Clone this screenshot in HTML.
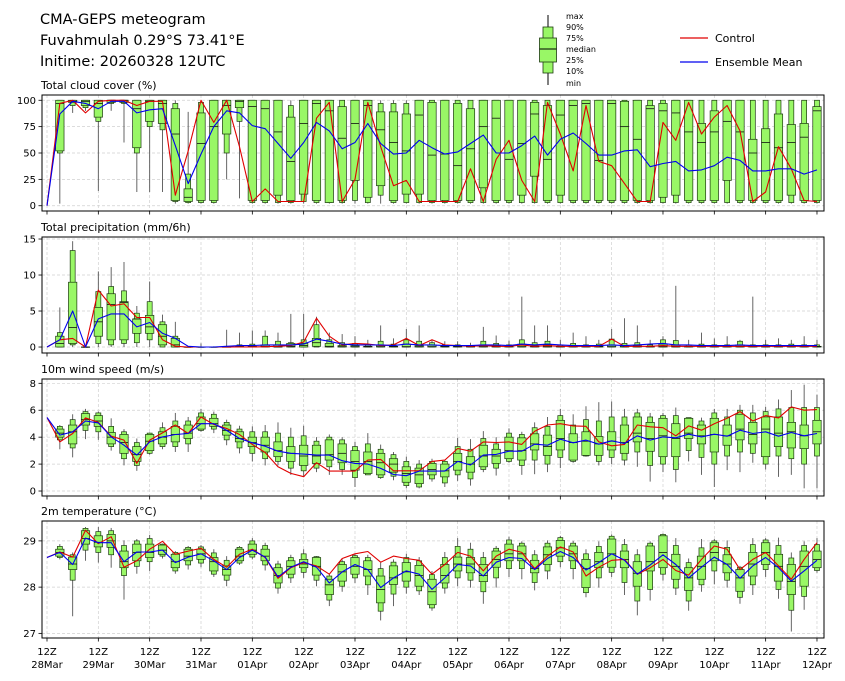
<!DOCTYPE html>
<html><head><meta charset="utf-8">
<style>
html,body{margin:0;padding:0;background:#fff;}
svg{display:block;font-family:"DejaVu Sans","Liberation Sans",sans-serif;}
</style></head>
<body>
<svg id="chart" width="845" height="681" viewBox="0 0 845 681" xmlns="http://www.w3.org/2000/svg">
<rect x="0" y="0" width="845" height="681" fill="#fff"/>
<text x="40" y="24" font-size="14.5" fill="#000">CMA-GEPS meteogram</text>
<text x="40" y="45" font-size="14.5" fill="#000">Fuvahmulah 0.29°S 73.41°E</text>
<text x="40" y="66" font-size="14.5" fill="#000">Initime: 20260328 12UTC</text>
<g>
<line x1="548" y1="15" x2="548" y2="85" stroke="#000" stroke-width="1"/>
<rect x="543" y="27" width="10" height="46" fill="#99f766" stroke="#1c3a10" stroke-width="0.8"/>
<rect x="539.5" y="38" width="17" height="24" fill="#99f766" stroke="#1c3a10" stroke-width="0.8"/>
<line x1="539.5" y1="49" x2="556.5" y2="49" stroke="#000" stroke-width="1"/>
<g font-size="8" fill="#000">
<text x="566" y="19">max</text><text x="566" y="30">90%</text><text x="566" y="41">75%</text><text x="566" y="52">median</text><text x="566" y="63">25%</text><text x="566" y="74">10%</text><text x="566" y="86">min</text>
</g></g>
<g>
<line x1="680" y1="38" x2="708" y2="38" stroke="#e00000" stroke-width="1.2"/>
<text x="715" y="42" font-size="11">Control</text>
<line x1="680" y1="62" x2="708" y2="62" stroke="#0000ee" stroke-width="1.2"/>
<text x="715" y="66" font-size="11">Ensemble Mean</text>
</g>
</svg>
<script>
// ---------- time axis ----------
const dayLabels = ['28Mar','29Mar','30Mar','31Mar','01Apr','02Apr','03Apr','04Apr','05Apr','06Apr','07Apr','08Apr','09Apr','10Apr','11Apr','12Apr'];

// ---------- cloud cover ----------
const cloudTicks = [0,25,50,75,100];
const cloudCtrl = [0,97,100,88,99,100,100,95,99,99, 10,52,100,79,100,56,4,16,4,4, 4,83,98,4,25,98,56,19,24,4, 4,4,4,35,4,44,62,24,4,98, 68,33,95,42,38,21,4,4,79,62, 98,68,84,95,71,4,13,56,35,5,4];
const cloudMean = [0,87,99,97,92,99,99,88,91,92, 57,21,49,75,90,88,76,73,59,45, 60,79,71,54,60,78,59,49,50,62, 55,49,51,59,67,50,50,57,66,48, 63,69,59,48,48,52,53,37,40,42, 33,34,38,46,43,33,33,35,35,30,34];
const cloudMin = [2,88,90,14,90,60,13,13,13,2, 2,2,2,25,7,2,2,2,2,2, 2,2,2,2,2,2,2,2,2,2, 2,2,2,2,2,2,2,2,2,2, 2,2,2,2,2,2,2,2,2,2, 2,2,2,2,2,2,2,2,2,2];
const cloudP10 = [50,95,93,80,97,97,50,75,72,4, 3,3,3,50,80,3,3,3,3,4, 3,3,3,5,3,10,3,3,3,3, 3,3,3,3,3,3,3,3,3,3, 3,3,3,3,3,3,3,3,3,3, 3,3,3,3,3,3,3,3,3,3];
const cloudP25 = [52,98,95,84,98,98,55,80,78,5, 4,5,5,68,93,5,5,10,5,11, 5,3,5,24,8,19,5,11,11,5, 5,5,5,17,5,5,10,28,5,10, 5,5,5,5,5,5,5,8,10,5, 5,5,24,5,5,5,5,10,5,5];
const cloudMed = [97,99,99,97,100,100,92,99,97,68, 8,59,75,95,99,94,92,70,42,78, 97,90,64,78,95,72,60,52,86,48, 49,38,54,75,83,44,59,87,44,86, 95,97,43,97,75,63,92,90,88,70, 60,70,80,70,50,60,55,60,65,90];
const cloudP75 = [100,100,100,100,100,100,100,100,100,92, 16,88,100,100,100,100,100,100,84,100, 100,100,94,100,100,89,89,87,100,98, 100,97,92,100,100,100,100,98,95,100, 100,100,100,100,99,100,95,97,100,100, 78,90,100,100,63,73,87,77,78,94];
const cloudP90 = [100,100,100,100,100,100,100,100,100,97, 30,98,100,100,100,100,100,100,95,100, 100,100,100,100,100,97,97,97,100,100, 100,100,100,100,100,100,100,100,100,100, 100,100,100,100,100,100,100,100,100,100, 100,100,100,100,100,100,100,100,100,100];
const cloudMax = [100,100,100,100,100,100,100,100,100,100, 89,100,100,100,100,100,100,100,100,100, 100,100,100,100,100,100,100,100,100,100, 100,100,100,100,100,100,100,100,100,100, 100,100,100,100,100,100,100,100,100,100, 100,100,100,100,100,100,100,100,100,100];

// ---------- precipitation ----------
const precTicks = [0,5,10,15];
const precCtrl = [0,1,1.2,0,7.9,5.7,6,4.1,4.1,1, 0.1,0,0,0,0,0,0,0.05,0.1,0.2, 0.7,4.0,1.5,0.3,0.5,0.4,0.2,0.3,1.2,0.2, 1.0,0.3,0.2,0.1,0.2,0.1,0.1,0.3,0.1,0.2, 0.1,0.1,0.1,0.1,1.1,0.1,0.1,0.1,0.2,0.1, 0.1,0.1,0.1,0.1,0.1,0.1,0.1,0.1,0.1,0.1,0.1];
const precMean = [0,1,5,0,3.9,4.6,4.6,2.8,3.4,1.9, 1.2,0.1,0,0,0.1,0.2,0.2,0.3,0.3,0.3, 0.4,1.1,0.8,0.4,0.3,0.3,0.3,0.2,0.4,0.3, 0.3,0.2,0.2,0.2,0.3,0.3,0.2,0.4,0.3,0.4, 0.3,0.2,0.2,0.2,0.3,0.2,0.3,0.4,0.5,0.3, 0.3,0.2,0.2,0.2,0.3,0.2,0.2,0.2,0.2,0.2,0.2];
const precMin = [0,0,0,0,0,0,0,0,0,0, 0,0,0,0,0,0,0,0,0,0, 0,0,0,0,0,0,0,0,0,0, 0,0,0,0,0,0,0,0,0,0, 0,0,0,0,0,0,0,0,0,0, 0,0,0,0,0,0,0,0,0,0];
const precP10 = [0,0.3,0,0.5,0.3,0.5,0.6,1,0,0, 0,0,0,0,0,0,0,0,0,0, 0,0,0,0,0,0,0,0,0,0, 0,0,0,0,0,0,0,0,0,0, 0,0,0,0,0,0,0,0,0,0, 0,0,0,0,0,0,0,0,0,0];
const precP25 = [0,0.5,0,1.5,1,1,1.9,1.9,0.3,0, 0,0,0,0,0,0,0,0,0,0, 0.1,0,0,0,0,0,0,0,0,0, 0,0,0,0,0,0,0,0,0,0, 0,0,0,0,0,0,0,0,0,0, 0,0,0,0,0,0,0,0,0,0];
const precMed = [0.5,2.7,0,3.5,5.9,6.2,3.9,2.8,1.5,0.3, 0,0,0,0,0,0,0.1,0,0.1,0.2, 0.6,0.1,0.05,0.05,0.05,0.05,0.05,0.05,0.05,0.05, 0.05,0.05,0.05,0.05,0.05,0.05,0.05,0.05,0.05,0.05, 0.05,0.05,0.05,0.05,0.05,0.05,0.05,0.05,0.05,0.05, 0.05,0.05,0.05,0.05,0.05,0.05,0.05,0.05,0.05,0.05];
const precP75 = [1.5,9,0,5.5,7.4,6.3,3.9,4.4,3.1,1.2, 0,0,0,0,0.1,0.1,0.3,0.3,0.5,0.5, 1.2,0.5,0.2,0.2,0.1,0.3,0.1,0.4,0.2,0.3, 0.1,0.1,0.1,0.3,0.2,0.1,0.4,0.2,0.3,0.1, 0.2,0.1,0.1,0.3,0.2,0.2,0.1,0.4,0.3,0.1, 0.1,0.1,0.1,0.3,0.1,0.1,0.1,0.1,0.1,0.1];
const precP90 = [2,13.4,0,7.7,8.4,7.8,4.7,6.3,3.5,1.5, 0,0,0,0.1,0.3,0.4,1.5,0.8,0.6,1.0, 3.1,1.0,0.6,0.5,0.3,0.8,0.4,1.0,0.8,0.6, 0.3,0.3,0.2,0.8,0.5,0.3,1.0,0.6,0.8,0.3, 0.5,0.3,0.4,1.1,0.5,0.6,0.3,1.0,0.9,0.3, 0.4,0.3,0.3,0.8,0.3,0.3,0.3,0.4,0.3,0.3];
const precMax = [5.5,14.7,0.1,10.5,11.1,11.8,5.7,9.1,4.5,3.5, 0.1,0.5,0.1,2.4,2.0,2.3,2.3,2.0,4.6,4.6, 4.2,2.0,1.8,1.5,1.0,3.0,1.2,2.5,3.0,1.0, 0.8,0.8,0.6,2.8,1.6,0.9,7.0,3.0,3.0,1.0, 2.0,1.5,1.0,2.5,4.0,3.0,1.0,1.5,8.5,1.0, 2.0,1.2,1.5,1.0,7.0,1.0,1.2,1.0,1.5,1.0];

// ---------- wind speed ----------
const windTicks = [0,2,4,6,8];
const windCtrl = [5.46,3.65,4.27,5.43,5.1,4.07,3.78,2.05,3.78,4.32, 4.9,4.27,5.5,4.94,4.64,4.2,3.46,2.86,1.8,1.31, 1.06,2.1,1.48,1.48,1.48,2.3,2.35,1.5,1.5,1.5, 2.2,2.3,3.16,2.96,3.65,3.6,3.65,3.46,4.44,4.9, 5.0,4.84,4.81,3.65,3.36,3.46,4.9,4.77,4.7,4.1, 4.84,4.52,5.0,5.4,5.9,5.2,5.6,5.43,6.25,6.0,6.05];
const windMean = [5.46,4.15,4.4,5.2,5.06,4.02,3.4,2.67,3.65,4.02, 4.2,4.27,5.0,5.0,4.5,3.9,3.58,3.33,2.96,2.8, 2.74,2.67,2.67,2.25,2.05,2.0,1.68,1.23,1.14,1.48, 1.48,1.48,2.2,1.93,2.67,2.72,2.96,2.96,3.48,3.4, 3.85,3.58,3.78,3.48,3.73,3.53,4.1,3.78,4.02,3.95, 4.22,4.02,4.22,4.07,4.52,4.27,4.4,4.07,4.35,4.1,4.27];
const windMin = [3.1,2.5,3.85,3.8,3.0,1.9,1.5,2.7,3.1,2.9, 2.9,4.4,4.3,3.4,2.8,2.2,1.9,1.9,1.2,1.1, 1.4,1.2,1.2,0.3,1.2,0.9,0.8,0.2,0.2,0.7, 0.3,0.75,0.4,1.4,1.15,2.1,1.2,1.25,1.4,1.7, 2.1,2.55,1.9,2.0,1.9,1.8,0.7,1.4,0.65,2.2, 1.2,0.3,1.55,1.4,2.1,1.6,1.05,1.2,0.2,0.2];
const windP10 = [3.8,3.2,4.5,4.4,3.3,2.4,1.9,2.8,3.3,3.3, 3.5,4.5,4.6,3.8,3.2,2.8,2.4,2.2,1.7,1.5, 1.7,1.8,1.6,1.0,1.2,1.0,1.1,0.4,0.3,0.9, 0.6,1.2,0.9,1.6,1.7,2.2,1.9,2.3,2.0,2.5, 2.2,2.6,2.2,2.5,2.3,2.9,1.9,2.0,1.6,3.0, 2.5,2.0,2.6,2.9,2.8,2.0,2.6,2.4,2.0,2.6];
const windP25 = [4.0,3.5,4.9,4.8,3.5,2.8,2.2,3.0,3.5,3.65, 3.9,4.6,4.8,4.15,3.65,3.3,2.9,2.55,2.2,1.9, 2.05,2.3,2.1,1.55,1.3,1.2,1.4,0.65,0.55,1.2, 1.05,1.55,1.4,1.8,2.05,2.4,2.3,3.05,2.65,3.05, 2.3,2.65,2.65,3.05,2.8,3.65,2.95,2.55,2.55,3.9, 3.5,2.9,3.4,3.8,3.5,2.55,3.3,3.2,3.15,3.5];
const windMed = [4.3,4.4,5.3,5.2,4.0,3.6,2.7,3.7,4.0,4.2, 4.3,5.0,5.0,4.5,3.9,3.6,3.4,3.0,2.8,2.6, 2.6,2.7,2.8,2.2,2.2,2.1,2.0,1.3,1.2,1.6, 1.5,2.2,2.0,2.6,2.6,3.0,3.0,3.5,3.3,3.9, 3.6,3.7,3.5,3.7,3.6,4.3,3.9,4.1,3.9,4.3, 4.1,4.2,4.1,4.6,4.2,4.6,4.3,4.4,4.1,4.4];
const windP75 = [4.6,4.9,5.75,5.6,4.35,4.2,3.3,4.2,4.4,4.8, 4.9,5.5,5.4,4.9,4.4,4.0,4.0,3.65,3.3,3.4, 3.4,3.8,3.5,3.0,2.9,2.8,2.4,1.8,1.7,2.05, 2.0,2.8,2.55,3.4,3.1,4.0,3.95,4.25,4.15,5.25, 4.25,4.4,4.05,4.4,4.9,5.5,5.1,5.4,5.0,5.4, 4.9,5.4,4.9,5.7,5.1,5.5,5.5,5.1,4.9,5.25];
const windP90 = [4.8,5.3,5.9,5.8,4.8,4.4,3.6,4.3,4.7,5.2, 5.2,5.8,5.7,5.1,4.6,4.4,4.4,4.3,4.0,4.1, 3.7,4.0,3.8,3.3,3.5,3.1,2.7,2.2,2.0,2.2, 2.2,3.3,3.1,3.9,3.5,4.3,4.2,4.7,4.8,5.6, 4.9,5.3,5.2,5.5,5.5,5.8,5.5,5.6,5.6,5.45, 5.2,5.8,5.5,6.0,5.8,5.9,6.1,6.2,6.2,6.2];
const windMax = [4.9,5.7,6.1,5.9,5.4,4.6,3.9,4.35,5.1,5.8, 5.5,6.1,5.9,5.3,4.85,4.8,4.9,5.1,4.7,4.85, 4.0,4.2,4.0,3.65,4.3,3.45,2.9,2.55,2.3,2.4, 2.3,3.95,3.85,4.45,4.0,4.65,4.4,5.1,5.5,6.1, 5.7,6.3,6.6,6.65,6.1,6.1,5.8,5.8,6.2,5.45, 5.45,6.1,6.1,6.4,6.4,6.25,6.8,7.5,7.9,7.15];

// ---------- temperature ----------
const tempTicks = [27,28,29];
const tempCtrl = [28.64,28.76,28.65,29.23,28.94,29.09,28.43,28.57,28.82,28.99, 28.71,28.78,28.84,28.6,28.43,28.71,28.82,28.64,28.19,28.42, 28.53,28.46,28.28,28.62,28.72,28.77,28.54,28.67,28.62,28.58, 28.28,28.49,28.75,28.67,28.35,28.67,28.82,28.75,28.4,28.67, 28.87,28.76,28.24,28.43,28.58,28.6,28.28,28.42,28.6,28.36, 28.26,28.6,28.89,28.82,28.38,28.6,28.75,28.46,28.17,28.6,28.96];
const tempMean = [28.64,28.75,28.49,29.06,28.96,28.96,28.55,28.76,28.76,28.8, 28.53,28.65,28.72,28.57,28.38,28.64,28.8,28.65,28.22,28.43, 28.55,28.43,28.09,28.33,28.49,28.38,27.99,28.2,28.35,28.28, 27.95,28.2,28.49,28.46,28.24,28.54,28.64,28.62,28.38,28.62, 28.77,28.64,28.37,28.53,28.72,28.58,28.28,28.48,28.7,28.49, 28.2,28.43,28.65,28.49,28.19,28.46,28.64,28.42,28.13,28.35,28.58];
const tempMin = [28.6,27.37,28.57,28.53,28.42,27.73,28.29,28.35,28.62,28.29, 28.38,28.43,28.22,28.02,28.48,28.6,28.36,27.86,28.09,28.2, 28.02,27.59,27.9,28.09,27.83,27.28,27.59,27.86,27.83,27.49, 27.86,28.02,27.99,27.64,27.99,28.22,28.17,27.93,28.17,28.43, 28.17,27.78,27.99,28.22,27.83,27.39,27.71,28.14,27.83,27.49, 27.9,28.06,27.99,27.64,27.83,28.22,27.75,27.04,27.51,28.31];
const tempP10 = [28.64,28.15,28.8,28.75,28.7,28.25,28.45,28.55,28.67,28.35, 28.48,28.52,28.28,28.15,28.52,28.65,28.48,27.98,28.2,28.32, 28.15,27.72,28.02,28.2,28.05,27.48,27.85,28.0,27.92,27.55, 27.98,28.2,28.15,27.9,28.2,28.4,28.4,28.1,28.35,28.55, 28.4,27.88,28.2,28.32,28.1,27.7,27.95,28.28,27.98,27.7, 28.05,28.35,28.15,27.78,28.05,28.38,27.95,27.5,27.8,28.36];
const tempP25 = [28.67,28.38,28.93,28.87,28.86,28.42,28.57,28.64,28.71,28.42, 28.57,28.6,28.35,28.26,28.57,28.71,28.57,28.09,28.28,28.42, 28.26,27.84,28.13,28.28,28.24,27.66,28.06,28.13,28.02,27.62, 28.09,28.35,28.31,28.12,28.43,28.57,28.57,28.31,28.49,28.67, 28.57,27.99,28.42,28.43,28.42,28.02,28.35,28.42,28.17,27.93, 28.17,28.57,28.31,27.91,28.24,28.49,28.13,27.84,28.02,28.42];
const tempMed = [28.75,28.5,29.05,28.97,29.0,28.55,28.75,28.75,28.8,28.55, 28.67,28.72,28.55,28.38,28.67,28.8,28.67,28.25,28.45,28.5, 28.45,28.05,28.33,28.45,28.38,27.95,28.2,28.33,28.25,27.9, 28.25,28.5,28.5,28.25,28.6,28.72,28.72,28.4,28.7,28.85, 28.72,28.4,28.55,28.72,28.6,28.3,28.55,28.75,28.45,28.2, 28.45,28.75,28.5,28.2,28.5,28.75,28.45,28.12,28.45,28.6];
const tempP75 = [28.82,28.65,29.22,29.11,29.14,28.78,28.93,28.93,28.91,28.71, 28.82,28.82,28.64,28.46,28.82,28.93,28.82,28.42,28.57,28.6, 28.64,28.17,28.49,28.64,28.57,28.24,28.46,28.53,28.47,28.17, 28.49,28.65,28.64,28.49,28.78,28.93,28.89,28.58,28.87,29.01, 28.89,28.6,28.75,29.04,28.78,28.55,28.89,29.11,28.71,28.42, 28.67,28.96,28.7,28.38,28.75,28.96,28.71,28.49,28.78,28.78];
const tempP90 = [28.88,28.7,29.27,29.2,29.22,28.9,29.0,29.05,28.93,28.75, 28.86,28.87,28.74,28.58,28.86,29.0,28.9,28.5,28.64,28.72, 28.66,28.24,28.55,28.68,28.64,28.4,28.54,28.64,28.57,28.27, 28.64,28.88,28.82,28.64,28.84,29.02,28.95,28.7,28.95,29.07, 28.95,28.72,28.88,29.1,28.92,28.7,28.95,29.14,28.9,28.53, 28.85,29.0,28.86,28.43,28.92,29.02,28.9,28.63,28.9,28.92];
const tempMax = [28.93,28.75,29.3,29.3,29.28,29.01,29.04,29.13,28.94,28.78, 28.89,28.91,28.82,28.67,28.89,29.06,28.96,28.57,28.7,28.82, 28.67,28.29,28.6,28.71,28.7,28.53,28.6,28.72,28.65,28.35, 28.76,29.06,28.96,28.76,28.89,29.09,28.99,28.8,29.01,29.11, 29.0,28.82,28.99,29.14,29.04,28.82,28.99,29.16,29.06,28.62, 29.04,29.04,29.01,28.46,29.06,29.06,29.07,28.75,28.99,29.06];

const NS = 'http://www.w3.org/2000/svg';
const svg = document.getElementById('chart');
const X0 = 42, X1 = 824;
function xOf(i){ return 47 + i * 12.833; }
function mk(tag, attrs, parent){
  const e = document.createElementNS(NS, tag);
  for (const k in attrs) e.setAttribute(k, attrs[k]);
  parent.appendChild(e);
  return e;
}

const panels = [
  {key:'cloud', title:'Total cloud cover (%)', top:95, bot:211, vmin:-5, vmax:105, ticks:cloudTicks,
   ctrl:cloudCtrl, mean:cloudMean, mn:cloudMin, p10:cloudP10, p25:cloudP25, med:cloudMed, p75:cloudP75, p90:cloudP90, mx:cloudMax},
  {key:'precip', title:'Total precipitation (mm/6h)', top:237, bot:353, vmin:-0.83, vmax:15.28, ticks:precTicks,
   ctrl:precCtrl, mean:precMean, mn:precMin, p10:precP10, p25:precP25, med:precMed, p75:precP75, p90:precP90, mx:precMax},
  {key:'wind', title:'10m wind speed (m/s)', top:379, bot:496, vmin:-0.37, vmax:8.32, ticks:windTicks,
   ctrl:windCtrl, mean:windMean, mn:windMin, p10:windP10, p25:windP25, med:windMed, p75:windP75, p90:windP90, mx:windMax},
  {key:'temp', title:'2m temperature (°C)', top:521, bot:638, vmin:26.9, vmax:29.43, ticks:tempTicks,
   ctrl:tempCtrl, mean:tempMean, mn:tempMin, p10:tempP10, p25:tempP25, med:tempMed, p75:tempP75, p90:tempP90, mx:tempMax}
];

panels.forEach(function(p, pi){
  const yOf = function(v){ return p.bot - (v - p.vmin) / (p.vmax - p.vmin) * (p.bot - p.top); };
  const g = mk('g', {}, svg);
  
  

  const t = mk('text', {x:41, y:p.top - 6, 'font-size':11, fill:'#000'}, g);
  t.textContent = p.title;
  
  

  // grid
  const grid = mk('g', {stroke:'#d0d0d0', 'stroke-width':0.7, 'stroke-dasharray':'3,2'}, g);
  
  
  for (let d = 0; d < dayLabels.length; d++){
    const x = xOf(d * 4);
    mk('line', {x1:x, y1:p.top, x2:x, y2:p.bot}, grid);
  }
  p.ticks.forEach(function(v){
    const y = yOf(v);
    mk('line', {x1:X0, y1:y, x2:X1, y2:y}, grid);
  });

  // y ticks
  const yax = mk('g', {}, g);
  
  
  p.ticks.forEach(function(v){
    const y = yOf(v);
    mk('line', {x1:X0 - 3.5, y1:y, x2:X0, y2:y, stroke:'#000', 'stroke-width':0.8}, yax);
    const lt = mk('text', {x:X0 - 6, y:y + 3.5, 'font-size':10, 'text-anchor':'end', fill:'#000'}, yax);
    lt.textContent = String(v);
    
    
  });

  // x ticks
  const xax = mk('g', {}, g);
  
  
  for (let d = 0; d < dayLabels.length; d++){
    const x = xOf(d * 4);
    mk('line', {x1:x, y1:p.bot, x2:x, y2:p.bot + 3.5, stroke:'#000', 'stroke-width':0.8}, xax);
    if (pi === panels.length - 1){
      const a = mk('text', {x:x, y:p.bot + 17, 'font-size':10, 'text-anchor':'middle', fill:'#000'}, xax);
      a.textContent = '12Z';
      
      
      const b = mk('text', {x:x, y:p.bot + 30, 'font-size':10, 'text-anchor':'middle', fill:'#000'}, xax);
      b.textContent = dayLabels[d];
      
      
    }
  }

  // boxes
  const bg = mk('g', {}, g);
  
  
  for (let k = 0; k < p.med.length; k++){
    const i = k + 1;
    const x = xOf(i);
    const bx = mk('g', {}, bg);
    
    
    mk('line', {x1:x, y1:yOf(p.mn[k]), x2:x, y2:yOf(p.mx[k]), stroke:'#555', 'stroke-width':0.9}, bx);
    const y90 = yOf(p.p90[k]), y10 = yOf(p.p10[k]);
    mk('rect', {x:x - 2.5, y:Math.min(y90, y10), width:5, height:Math.max(0.3, Math.abs(y10 - y90)), fill:'#99f766', stroke:'#1c3a10', 'stroke-width':0.7}, bx);
    const y75 = yOf(p.p75[k]), y25 = yOf(p.p25[k]);
    mk('rect', {x:x - 4.2, y:Math.min(y75, y25), width:8.4, height:Math.max(0.3, Math.abs(y25 - y75)), fill:'#99f766', stroke:'#1c3a10', 'stroke-width':0.7}, bx);
    const ym = yOf(p.med[k]);
    mk('line', {x1:x - 4.2, y1:ym, x2:x + 4.2, y2:ym, stroke:'#111', 'stroke-width':0.8}, bx);
  }

  // lines
  const ptsC = p.ctrl.map(function(v, i){ return xOf(i).toFixed(1) + ',' + yOf(v).toFixed(1); }).join(' ');
  const lc = mk('polyline', {points:ptsC, fill:'none', stroke:'#e00000', 'stroke-width':1.1, 'stroke-linejoin':'round'}, g);
  
  
  const ptsM = p.mean.map(function(v, i){ return xOf(i).toFixed(1) + ',' + yOf(v).toFixed(1); }).join(' ');
  const lm = mk('polyline', {points:ptsM, fill:'none', stroke:'#0000ee', 'stroke-width':1.1, 'stroke-linejoin':'round'}, g);
  
  

  // frame
  const fr = mk('rect', {x:X0, y:p.top, width:X1 - X0, height:p.bot - p.top, fill:'none', stroke:'#000', 'stroke-width':1}, g);
  
  
});
</script>
</body></html>
